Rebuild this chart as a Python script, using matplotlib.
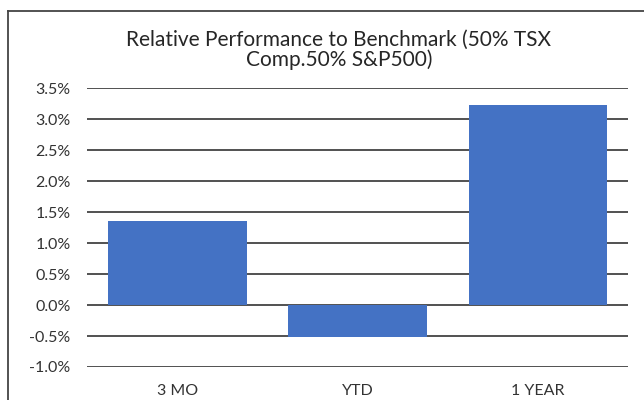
import matplotlib
matplotlib.use("Agg")
import matplotlib.pyplot as plt
from matplotlib.lines import Line2D
from matplotlib.ticker import FuncFormatter, MultipleLocator

categories = ["3 MO", "YTD", "1 YEAR"]
values = [1.35, -0.52, 3.23]
title_lines = ["Relative Performance to Benchmark (50% TSX", "Comp.50% S&P500)"]

plt.rcParams['font.family'] = ['Lato', 'DejaVu Sans']

fig = plt.figure(figsize=(6.44, 4.00), dpi=100)
ax = fig.add_axes([87.3/644, 1-367/400, (628-87.3)/644, (367-88.3)/400])

x = list(range(len(categories)))
ax.bar(x, values, width=0.768, color='#4472C4', zorder=3)
ax.set_xlim(-0.5, 2.5)
ax.set_ylim(-1.0, 3.5)
ax.yaxis.set_major_locator(MultipleLocator(0.5))
ax.yaxis.set_major_formatter(FuncFormatter(lambda v, p: f"{v:.1f}%"))
ax.grid(axis='y', color='#333333', linewidth=1.2, zorder=0)
for s in ax.spines.values():
    s.set_visible(False)
ax.tick_params(axis='both', length=0, labelsize=11.5, colors='#333333')
ax.tick_params(axis='y', pad=12)
ax.tick_params(axis='x', pad=12)
ax.set_xticks(x)
ax.set_xticklabels(categories)

for i, (line, base) in enumerate(zip(title_lines, [45.5, 66.5])):
    fig.text(339/644, 1-base/400, line, ha='center', va='baseline',
             fontsize=15, color='#262626')

fig.add_artist(Line2D([8/644, 8/644], [0, 1-11/400], color='#444444', linewidth=1.3, transform=fig.transFigure))
fig.add_artist(Line2D([8/644, 1], [1-11/400, 1-11/400], color='#444444', linewidth=1.3, transform=fig.transFigure))

fig.savefig("out.png", dpi=100)
